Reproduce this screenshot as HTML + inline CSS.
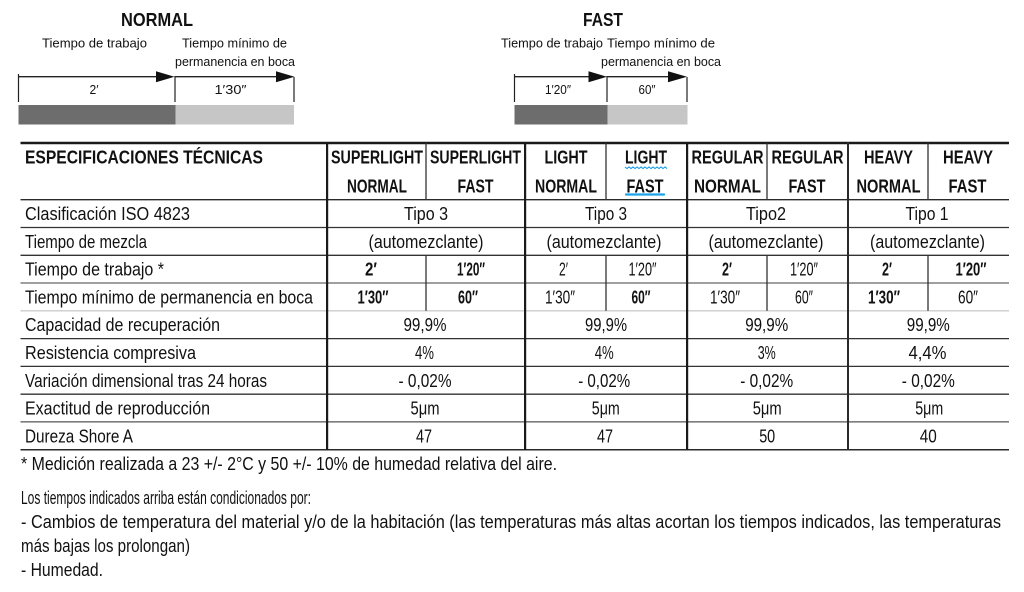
<!DOCTYPE html>
<html><head><meta charset="utf-8"><style>
html,body{margin:0;padding:0;background:#fff;}
svg{display:block;}
text{font-family:"Liberation Sans",sans-serif;fill:#111;}
.b{font-weight:bold;}
.s13{font-size:13px;}
.s18{font-size:18px;}
</style></head><body>
<svg width="1024" height="592" viewBox="0 0 1024 592" xmlns="http://www.w3.org/2000/svg">
<rect width="1024" height="592" fill="#fff"/>

<!-- NORMAL diagram -->
<text class="b s18" x="121" y="26" textLength="72" lengthAdjust="spacingAndGlyphs">NORMAL</text>
<text class="s13" x="42" y="47.5" textLength="105" lengthAdjust="spacingAndGlyphs">Tiempo de trabajo</text>
<text class="s13" x="182" y="47.5" textLength="105" lengthAdjust="spacingAndGlyphs">Tiempo mínimo de</text>
<text class="s13" x="175" y="66" textLength="120" lengthAdjust="spacingAndGlyphs">permanencia en boca</text>
<line x1="18.5" y1="76.7" x2="160" y2="76.7" stroke="#222" stroke-width="1.3"/>
<polygon points="156,71.3 174.5,76.7 156,82.2" fill="#111"/>
<line x1="175" y1="76.7" x2="280" y2="76.7" stroke="#222" stroke-width="1.3"/>
<polygon points="276,71.3 294.5,76.7 276,82.2" fill="#111"/>
<line x1="18.5" y1="74" x2="18.5" y2="102" stroke="#222" stroke-width="1.2"/>
<line x1="175" y1="76" x2="175" y2="102" stroke="#222" stroke-width="1.2"/>
<line x1="294" y1="77" x2="294" y2="102" stroke="#222" stroke-width="1.2"/>
<text class="s13" x="94" y="94" text-anchor="middle" textLength="9" lengthAdjust="spacingAndGlyphs">2′</text>
<text class="s13" x="230.5" y="94" text-anchor="middle" textLength="32" lengthAdjust="spacingAndGlyphs">1′30″</text>
<rect x="18.5" y="105" width="157" height="19.5" fill="#6d6d6d"/>
<rect x="175.5" y="105" width="118.5" height="19.5" fill="#c6c6c6"/>

<!-- FAST diagram -->
<text class="b s18" x="583" y="26" textLength="40" lengthAdjust="spacingAndGlyphs">FAST</text>
<text class="s13" x="501" y="47.5" textLength="102" lengthAdjust="spacingAndGlyphs">Tiempo de trabajo</text>
<text class="s13" x="607" y="47.5" textLength="108" lengthAdjust="spacingAndGlyphs">Tiempo mínimo de</text>
<text class="s13" x="601" y="66" textLength="120" lengthAdjust="spacingAndGlyphs">permanencia en boca</text>
<line x1="514.5" y1="76.7" x2="592" y2="76.7" stroke="#222" stroke-width="1.3"/>
<polygon points="588.5,71.3 607,76.7 588.5,82.2" fill="#111"/>
<line x1="607" y1="76.7" x2="670" y2="76.7" stroke="#222" stroke-width="1.3"/>
<polygon points="668,71.3 687,76.7 668,82.2" fill="#111"/>
<line x1="514.5" y1="74" x2="514.5" y2="102" stroke="#222" stroke-width="1.2"/>
<line x1="607" y1="76" x2="607" y2="102" stroke="#222" stroke-width="1.2"/>
<line x1="687" y1="77" x2="687" y2="102" stroke="#222" stroke-width="1.2"/>
<text class="s13" x="558" y="94" text-anchor="middle" textLength="26" lengthAdjust="spacingAndGlyphs">1′20″</text>
<text class="s13" x="647" y="94" text-anchor="middle" textLength="17" lengthAdjust="spacingAndGlyphs">60″</text>
<rect x="514.5" y="105" width="93" height="19.5" fill="#6d6d6d"/>
<rect x="607.5" y="105" width="80" height="19.5" fill="#c6c6c6"/>

<!-- TABLE LINES -->
<line x1="20.5" y1="143" x2="1009" y2="143" stroke="#1a1a1a" stroke-width="2.4"/>
<line x1="20.5" y1="199.7" x2="1009" y2="199.7" stroke="#2a2a2a" stroke-width="1.4"/>
<line x1="20.5" y1="227.5" x2="1009" y2="227.5" stroke="#333" stroke-width="1.3"/>
<line x1="20.5" y1="255.3" x2="1009" y2="255.3" stroke="#333" stroke-width="1.3"/>
<line x1="20.5" y1="283" x2="1009" y2="283" stroke="#666" stroke-width="1.3"/>
<line x1="20.5" y1="310.8" x2="1009" y2="310.8" stroke="#ccc" stroke-width="1.3"/>
<line x1="20.5" y1="338.6" x2="1009" y2="338.6" stroke="#333" stroke-width="1.3"/>
<line x1="20.5" y1="366.4" x2="1009" y2="366.4" stroke="#333" stroke-width="1.3"/>
<line x1="20.5" y1="394.2" x2="1009" y2="394.2" stroke="#333" stroke-width="1.3"/>
<line x1="20.5" y1="421.9" x2="1009" y2="421.9" stroke="#555" stroke-width="1.3"/>
<line x1="20.5" y1="449.7" x2="1009" y2="449.7" stroke="#2a2a2a" stroke-width="1.5"/>

<rect x="326" y="142" width="2.2" height="308" fill="#1a1a1a"/>
<rect x="524" y="142" width="2.2" height="308" fill="#1a1a1a"/>
<rect x="686" y="142" width="2.2" height="308" fill="#1a1a1a"/>
<rect x="847" y="142" width="2" height="308" fill="#2a2a2a"/>
<line x1="426" y1="143" x2="426" y2="199.7" stroke="#333" stroke-width="1.3"/>
<line x1="606" y1="143" x2="606" y2="199.7" stroke="#333" stroke-width="1.3"/>
<line x1="767" y1="143" x2="767" y2="199.7" stroke="#333" stroke-width="1.3"/>
<line x1="928" y1="143" x2="928" y2="199.7" stroke="#333" stroke-width="1.3"/>
<line x1="426" y1="255.3" x2="426" y2="310.8" stroke="#333" stroke-width="1.3"/>
<line x1="606" y1="255.3" x2="606" y2="310.8" stroke="#333" stroke-width="1.3"/>
<line x1="767" y1="255.3" x2="767" y2="310.8" stroke="#333" stroke-width="1.3"/>
<line x1="928" y1="255.3" x2="928" y2="310.8" stroke="#333" stroke-width="1.3"/>

<!-- HEADER TEXT -->
<text class="b s18" x="25" y="163.5" textLength="238" lengthAdjust="spacingAndGlyphs">ESPECIFICACIONES TÉCNICAS</text>
<text class="b s18" x="377" y="163.5" text-anchor="middle" textLength="92" lengthAdjust="spacingAndGlyphs">SUPERLIGHT</text>
<text class="b s18" x="377" y="192.3" text-anchor="middle" textLength="60" lengthAdjust="spacingAndGlyphs">NORMAL</text>
<text class="b s18" x="475.5" y="163.5" text-anchor="middle" textLength="91" lengthAdjust="spacingAndGlyphs">SUPERLIGHT</text>
<text class="b s18" x="475.5" y="192.3" text-anchor="middle" textLength="36" lengthAdjust="spacingAndGlyphs">FAST</text>
<text class="b s18" x="566" y="163.5" text-anchor="middle" textLength="43" lengthAdjust="spacingAndGlyphs">LIGHT</text>
<text class="b s18" x="566" y="192.3" text-anchor="middle" textLength="62" lengthAdjust="spacingAndGlyphs">NORMAL</text>
<text class="b s18" x="646" y="163.5" text-anchor="middle" textLength="42" lengthAdjust="spacingAndGlyphs">LIGHT</text>
<text class="b s18" x="645" y="192.3" text-anchor="middle" textLength="37" lengthAdjust="spacingAndGlyphs">FAST</text>
<polyline points="625,167 627,168.6 629,167 631,168.6 633,167 635,168.6 637,167 639,168.6 641,167 643,168.6 645,167 647,168.6 649,167 651,168.6 653,167 655,168.6 657,167 659,168.6 661,167 663,168.6 665,167 667,168.6" fill="none" stroke="#1f9fe0" stroke-width="1.1"/>
<line x1="626" y1="194.5" x2="664" y2="194.5" stroke="#1aa3e8" stroke-width="2.2" stroke-linecap="round"/>
<text class="b s18" x="727.5" y="163.5" text-anchor="middle" textLength="72" lengthAdjust="spacingAndGlyphs">REGULAR</text>
<text class="b s18" x="727.5" y="192.3" text-anchor="middle" textLength="67" lengthAdjust="spacingAndGlyphs">NORMAL</text>
<text class="b s18" x="807.5" y="163.5" text-anchor="middle" textLength="72" lengthAdjust="spacingAndGlyphs">REGULAR</text>
<text class="b s18" x="807" y="192.3" text-anchor="middle" textLength="37" lengthAdjust="spacingAndGlyphs">FAST</text>
<text class="b s18" x="888.5" y="163.5" text-anchor="middle" textLength="49" lengthAdjust="spacingAndGlyphs">HEAVY</text>
<text class="b s18" x="888.5" y="192.3" text-anchor="middle" textLength="64" lengthAdjust="spacingAndGlyphs">NORMAL</text>
<text class="b s18" x="968" y="163.5" text-anchor="middle" textLength="50" lengthAdjust="spacingAndGlyphs">HEAVY</text>
<text class="b s18" x="967.5" y="192.3" text-anchor="middle" textLength="38" lengthAdjust="spacingAndGlyphs">FAST</text>

<!-- ROW LABELS -->
<text class="s18" x="25" y="220.1" textLength="165" lengthAdjust="spacingAndGlyphs">Clasificación ISO 4823</text>
<text class="s18" x="25" y="247.9" textLength="122" lengthAdjust="spacingAndGlyphs">Tiempo de mezcla</text>
<text class="s18" x="25" y="275.7" textLength="139" lengthAdjust="spacingAndGlyphs">Tiempo de trabajo *</text>
<text class="s18" x="25" y="303.5" textLength="288" lengthAdjust="spacingAndGlyphs">Tiempo mínimo de permanencia en boca</text>
<text class="s18" x="25" y="331.2" textLength="195" lengthAdjust="spacingAndGlyphs">Capacidad de recuperación</text>
<text class="s18" x="25" y="359" textLength="171" lengthAdjust="spacingAndGlyphs">Resistencia compresiva</text>
<text class="s18" x="25" y="386.8" textLength="242" lengthAdjust="spacingAndGlyphs">Variación dimensional tras 24 horas</text>
<text class="s18" x="25" y="414.6" textLength="185" lengthAdjust="spacingAndGlyphs">Exactitud de reproducción</text>
<text class="s18" x="25" y="442.4" textLength="108" lengthAdjust="spacingAndGlyphs">Dureza Shore A</text>

<!-- Row 0: Tipo -->
<text class="s18" x="426" y="220.1" text-anchor="middle" textLength="44" lengthAdjust="spacingAndGlyphs">Tipo 3</text>
<text class="s18" x="606" y="220.1" text-anchor="middle" textLength="42" lengthAdjust="spacingAndGlyphs">Tipo 3</text>
<text class="s18" x="766" y="220.1" text-anchor="middle" textLength="40" lengthAdjust="spacingAndGlyphs">Tipo2</text>
<text class="s18" x="927" y="220.1" text-anchor="middle" textLength="43" lengthAdjust="spacingAndGlyphs">Tipo 1</text>
<!-- Row 1 -->
<text class="s18" x="426" y="247.9" text-anchor="middle" textLength="115" lengthAdjust="spacingAndGlyphs">(automezclante)</text>
<text class="s18" x="604" y="247.9" text-anchor="middle" textLength="115" lengthAdjust="spacingAndGlyphs">(automezclante)</text>
<text class="s18" x="766" y="247.9" text-anchor="middle" textLength="115" lengthAdjust="spacingAndGlyphs">(automezclante)</text>
<text class="s18" x="927.5" y="247.9" text-anchor="middle" textLength="115" lengthAdjust="spacingAndGlyphs">(automezclante)</text>
<!-- Row 2: trabajo -->
<text class="b s18" x="371" y="275.7" text-anchor="middle" textLength="12" lengthAdjust="spacingAndGlyphs">2′</text>
<text class="b s18" x="471" y="275.7" text-anchor="middle" textLength="28" lengthAdjust="spacingAndGlyphs">1′20″</text>
<text class="s18" x="563.5" y="275.7" text-anchor="middle" textLength="9" lengthAdjust="spacingAndGlyphs">2′</text>
<text class="s18" x="642.5" y="275.7" text-anchor="middle" textLength="28" lengthAdjust="spacingAndGlyphs">1′20″</text>
<text class="b s18" x="727" y="275.7" text-anchor="middle" textLength="10" lengthAdjust="spacingAndGlyphs">2′</text>
<text class="s18" x="804" y="275.7" text-anchor="middle" textLength="28" lengthAdjust="spacingAndGlyphs">1′20″</text>
<text class="b s18" x="887" y="275.7" text-anchor="middle" textLength="10" lengthAdjust="spacingAndGlyphs">2′</text>
<text class="b s18" x="971" y="275.7" text-anchor="middle" textLength="31" lengthAdjust="spacingAndGlyphs">1′20″</text>
<!-- Row 3: minimo -->
<text class="b s18" x="373" y="303.5" text-anchor="middle" textLength="31" lengthAdjust="spacingAndGlyphs">1′30″</text>
<text class="b s18" x="468" y="303.5" text-anchor="middle" textLength="20" lengthAdjust="spacingAndGlyphs">60″</text>
<text class="s18" x="560" y="303.5" text-anchor="middle" textLength="30" lengthAdjust="spacingAndGlyphs">1′30″</text>
<text class="b s18" x="641" y="303.5" text-anchor="middle" textLength="19" lengthAdjust="spacingAndGlyphs">60″</text>
<text class="s18" x="725" y="303.5" text-anchor="middle" textLength="30" lengthAdjust="spacingAndGlyphs">1′30″</text>
<text class="s18" x="804" y="303.5" text-anchor="middle" textLength="18" lengthAdjust="spacingAndGlyphs">60″</text>
<text class="b s18" x="884" y="303.5" text-anchor="middle" textLength="32" lengthAdjust="spacingAndGlyphs">1′30″</text>
<text class="s18" x="968" y="303.5" text-anchor="middle" textLength="20" lengthAdjust="spacingAndGlyphs">60″</text>
<!-- Row 4 -->
<text class="s18" x="425" y="331.2" text-anchor="middle" textLength="43" lengthAdjust="spacingAndGlyphs">99,9%</text>
<text class="s18" x="606" y="331.2" text-anchor="middle" textLength="42" lengthAdjust="spacingAndGlyphs">99,9%</text>
<text class="s18" x="766.7" y="331.2" text-anchor="middle" textLength="43" lengthAdjust="spacingAndGlyphs">99,9%</text>
<text class="s18" x="928.3" y="331.2" text-anchor="middle" textLength="43" lengthAdjust="spacingAndGlyphs">99,9%</text>
<!-- Row 5 -->
<text class="s18" x="424.5" y="359" text-anchor="middle" textLength="19" lengthAdjust="spacingAndGlyphs">4%</text>
<text class="s18" x="604.2" y="359" text-anchor="middle" textLength="19" lengthAdjust="spacingAndGlyphs">4%</text>
<text class="s18" x="766.7" y="359" text-anchor="middle" textLength="18" lengthAdjust="spacingAndGlyphs">3%</text>
<text class="s18" x="927.5" y="359" text-anchor="middle" textLength="38" lengthAdjust="spacingAndGlyphs">4,4%</text>
<!-- Row 6 -->
<text class="s18" x="425" y="386.8" text-anchor="middle" textLength="53" lengthAdjust="spacingAndGlyphs">- 0,02%</text>
<text class="s18" x="604.2" y="386.8" text-anchor="middle" textLength="52" lengthAdjust="spacingAndGlyphs">- 0,02%</text>
<text class="s18" x="766.7" y="386.8" text-anchor="middle" textLength="53" lengthAdjust="spacingAndGlyphs">- 0,02%</text>
<text class="s18" x="928.3" y="386.8" text-anchor="middle" textLength="53" lengthAdjust="spacingAndGlyphs">- 0,02%</text>
<!-- Row 7 -->
<text class="s18" x="425" y="414.6" text-anchor="middle" textLength="29" lengthAdjust="spacingAndGlyphs">5μm</text>
<text class="s18" x="605.8" y="414.6" text-anchor="middle" textLength="28" lengthAdjust="spacingAndGlyphs">5μm</text>
<text class="s18" x="767.2" y="414.6" text-anchor="middle" textLength="29" lengthAdjust="spacingAndGlyphs">5μm</text>
<text class="s18" x="929.2" y="414.6" text-anchor="middle" textLength="28" lengthAdjust="spacingAndGlyphs">5μm</text>
<!-- Row 8 -->
<text class="s18" x="424" y="442.4" text-anchor="middle" textLength="16" lengthAdjust="spacingAndGlyphs">47</text>
<text class="s18" x="605" y="442.4" text-anchor="middle" textLength="16" lengthAdjust="spacingAndGlyphs">47</text>
<text class="s18" x="767.2" y="442.4" text-anchor="middle" textLength="16" lengthAdjust="spacingAndGlyphs">50</text>
<text class="s18" x="928.3" y="442.4" text-anchor="middle" textLength="17" lengthAdjust="spacingAndGlyphs">40</text>

<!-- FOOTNOTES -->
<text class="s18" x="21" y="470" textLength="536" lengthAdjust="spacingAndGlyphs">* Medición realizada a 23 +/- 2°C y 50 +/- 10% de humedad relativa del aire.</text>
<text class="s18" x="21" y="504" textLength="290" lengthAdjust="spacingAndGlyphs">Los tiempos indicados arriba están condicionados por:</text>
<text class="s18" x="21" y="528" textLength="980" lengthAdjust="spacingAndGlyphs">- Cambios de temperatura del material y/o de la habitación (las temperaturas más altas acortan los tiempos indicados, las temperaturas</text>
<text class="s18" x="21" y="552" textLength="169" lengthAdjust="spacingAndGlyphs">más bajas los prolongan)</text>
<text class="s18" x="21" y="576" textLength="82" lengthAdjust="spacingAndGlyphs">- Humedad.</text>
</svg>
</body></html>
